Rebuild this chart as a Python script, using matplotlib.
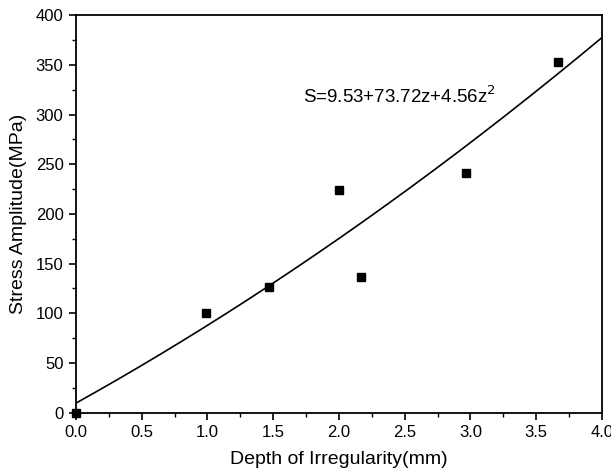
import matplotlib
matplotlib.use("Agg")
import matplotlib.pyplot as plt
import numpy as np
from matplotlib.ticker import MultipleLocator, FormatStrFormatter

plt.rcParams['font.family'] = ['Liberation Sans', 'DejaVu Sans']

# measured points
depth = [0.0, 0.99, 1.47, 2.0, 2.165, 2.965, 3.665]
stress = [0, 100, 126, 224, 136, 241, 353]

# fitted curve coefficients
a0, a1, a2 = 9.53, 73.72, 4.56

fig = plt.figure(figsize=(6.11, 4.75), dpi=100)
ax = fig.add_axes([0.1244, 0.1314, 0.8606, 0.8366])

z = np.linspace(0, 4, 200)
ax.plot(z, a0 + a1 * z + a2 * z ** 2, color='black', lw=1.2)
ax.plot(depth, stress, 's', color='black', ms=6, clip_on=False)

ax.text(1.73, 318, r'S=9.53+73.72z+4.56z$^2$', fontsize=13.5, va='center')

ax.set_xlim(0, 4)
ax.set_ylim(0, 400)
ax.xaxis.set_major_locator(MultipleLocator(0.5))
ax.xaxis.set_minor_locator(MultipleLocator(0.25))
ax.xaxis.set_major_formatter(FormatStrFormatter('%.1f'))
ax.yaxis.set_major_locator(MultipleLocator(50))
ax.yaxis.set_minor_locator(MultipleLocator(25))
ax.tick_params(which='both', direction='out', top=False, right=False, labelsize=12)
ax.tick_params(which='major', length=5, width=1.2, pad=4)
ax.tick_params(which='minor', length=3, width=1)
for s in ax.spines.values():
    s.set_linewidth(1.3)

ax.set_xlabel('Depth of Irregularity(mm)', fontsize=14, labelpad=8)
ax.set_ylabel('Stress Amplitude(MPa)', fontsize=14, labelpad=6)

fig.savefig('out.png', dpi=100)
